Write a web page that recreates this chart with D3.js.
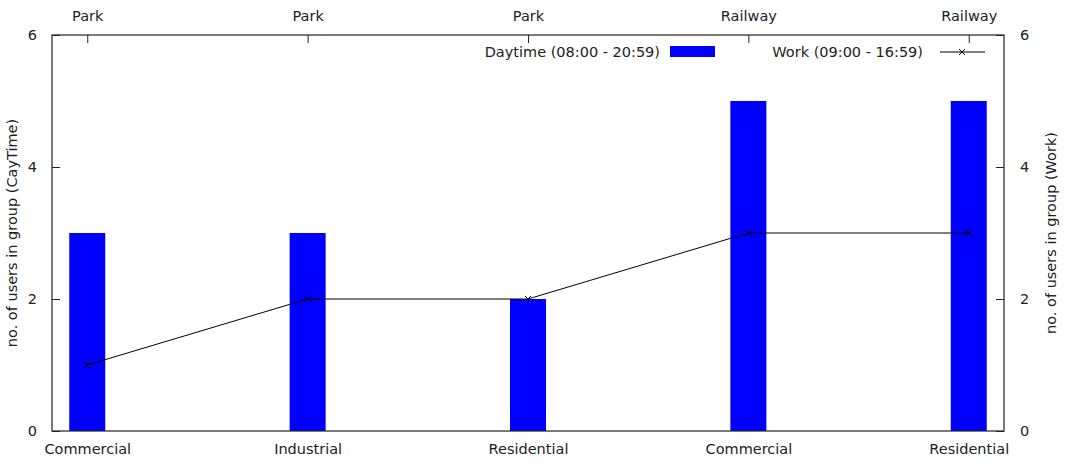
<!DOCTYPE html>
<html><head><meta charset="utf-8">
<script src="https://cdn.jsdelivr.net/npm/d3@7"></script>
<style>body{margin:0;background:#fff}svg{display:block}text{font-family:"DejaVu Sans",sans-serif;font-size:14.5px;fill:#222}</style>
</head><body>
<svg id="c" width="1086" height="472"></svg>
<script>
const bottomLabels = ["Commercial","Industrial","Residential","Commercial","Residential"];
const topLabels = ["Park","Park","Park","Railway","Railway"];
const daytime = [3,3,2,5,5];
const work = [1,2,2,3,3];
const yTicks = [0,2,4,6];

const FS = 14.5;
const svg = d3.select("#c");
const L=52, R=1004, T=35, B=431;
const x = d3.scaleLinear().domain([-0.16,4.16]).range([L,R]);
const y = d3.scaleLinear().domain([0,6]).range([B,T]);
const y2 = d3.scaleLinear().domain([0,6]).range([B,T]);
const barW = 36;

// bars
svg.append("g").selectAll("rect").data(daytime).join("rect")
  .attr("x",(d,i)=>x(i)-barW/2).attr("width",barW)
  .attr("y",d=>y(d)).attr("height",d=>B-y(d)).attr("fill","#0000ff");

// line
const line = d3.line().x((d,i)=>x(i)).y(d=>y2(d));
svg.append("path").datum(work).attr("d",line).attr("fill","none").attr("stroke","#000").attr("stroke-width",1);
const mk = svg.append("g").selectAll("g").data(work).join("g")
  .attr("transform",(d,i)=>`translate(${x(i)},${y2(d)})`);
mk.append("path").attr("d","M-3,-3L3,3M-3,3L3,-3").attr("stroke","#000").attr("stroke-width",1);

// axes
const axC="#222";
const ax = svg.append("g");
const gl = ax.append("g").attr("transform",`translate(${L},0)`)
  .call(d3.axisLeft(y).tickValues(yTicks).tickSize(-8).tickPadding(15).tickFormat(d3.format("d")));
const gr = ax.append("g").attr("transform",`translate(${R},0)`)
  .call(d3.axisRight(y2).tickValues(yTicks).tickSize(-8).tickPadding(16).tickFormat(d3.format("d")));
const gb = ax.append("g").attr("transform",`translate(0,${B})`)
  .call(d3.axisBottom(x).tickValues(d3.range(bottomLabels.length)).tickSize(0).tickPadding(13).tickFormat(i=>bottomLabels[i]));
const gt = ax.append("g").attr("transform",`translate(0,${T})`)
  .call(d3.axisTop(x).tickValues(d3.range(topLabels.length)).tickSize(-8).tickPadding(14).tickFormat(i=>topLabels[i]));
[gl,gr,gb,gt].forEach(g=>{
  g.selectAll(".domain").remove();
  g.selectAll("line").attr("stroke",axC);
  g.selectAll("text").attr("font-family","DejaVu Sans").attr("font-size",FS).attr("fill","#222");
});
svg.append("rect").attr("x",L).attr("y",T).attr("width",R-L).attr("height",B-T)
  .attr("fill","none").attr("stroke",axC).attr("stroke-width",1.2);

// axis titles
svg.append("text").attr("transform",`translate(17,${(T+B)/2}) rotate(-90)`).attr("text-anchor","middle")
  .text("no. of users in group (CayTime)");
svg.append("text").attr("transform",`translate(1056,${(T+B)/2}) rotate(-90)`).attr("text-anchor","middle")
  .text("no. of users in group (Work)");

// legend
svg.append("text").attr("x",660).attr("y",57).attr("text-anchor","end").text("Daytime (08:00 - 20:59)");
svg.append("rect").attr("x",670).attr("y",46).attr("width",45).attr("height",11).attr("fill","#0000ff");
svg.append("text").attr("x",923).attr("y",57).attr("text-anchor","end").text("Work (09:00 - 16:59)");
svg.append("line").attr("x1",940).attr("x2",985).attr("y1",52).attr("y2",52).attr("stroke","#000");
svg.append("path").attr("d","M959,49L965,55M959,55L965,49").attr("stroke","#000");
</script>
</body></html>
